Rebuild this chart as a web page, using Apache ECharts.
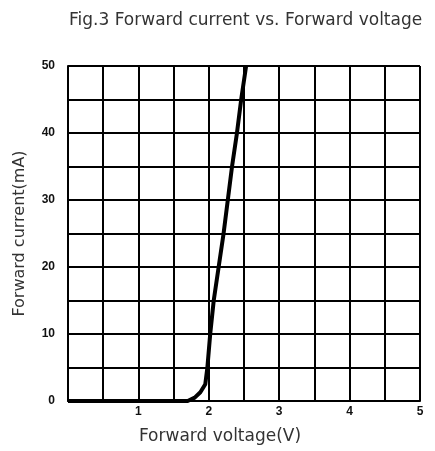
<!DOCTYPE html>
<html>
<head>
<meta charset="utf-8">
<script src="https://cdn.jsdelivr.net/npm/echarts@6/dist/echarts.min.js"></script>
<style>
  html, body { margin: 0; padding: 0; background: #fff; }
  #main { width: 435px; height: 451px; }
</style>
</head>
<body>
<div id="main"></div>
<script>
// curve: [voltage V, current mA]
const voltage = [0, 1.70, 1.80, 1.88, 1.95, 1.98, 2.02, 2.07, 2.14, 2.21, 2.27, 2.33, 2.40, 2.46, 2.53];
const current = [0, 0, 0.5, 1.3, 2.5, 5, 10, 15, 20, 25, 30, 35, 40, 45, 50];
const xLabels = [1, 2, 3, 4, 5];
const yLabels = [0, 10, 20, 30, 40, 50];

var chartDom = document.getElementById('main');
var myChart = echarts.init(chartDom);

const points = voltage.map((v, i) => [v, current[i]]);

var option = {
  backgroundColor: '#fff',
  animation: false,
  title: {
    text: 'Fig.3 Forward current vs. Forward voltage',
    left: 64,
    top: 7,
    textStyle: {
      fontFamily: 'DejaVu Sans',
      fontSize: 17,
      fontWeight: 'normal',
      color: '#333'
    }
  },
  grid: {
    left: 68,
    right: 15,
    top: 66,
    bottom: 50
  },
  xAxis: {
    type: 'value',
    min: 0,
    max: 5,
    interval: 0.5,
    name: 'Forward voltage(V)',
    nameLocation: 'middle',
    nameGap: 27,
    nameTextStyle: {
      fontFamily: 'DejaVu Sans',
      fontSize: 17,
      color: '#333',
      padding: [0, 48, 0, 0]
    },
    axisTick: { show: false },
    axisLine: { lineStyle: { color: '#000', width: 2 } },
    splitLine: { show: true, lineStyle: { color: '#000', width: 2 } },
    axisLabel: {
      fontFamily: 'Liberation Sans',
      fontSize: 12,
      fontWeight: 'bold',
      color: '#111',
      margin: 5,
      formatter: function (v) {
        return xLabels.indexOf(v) >= 0 ? String(v) : '';
      }
    }
  },
  yAxis: {
    type: 'value',
    min: 0,
    max: 50,
    interval: 5,
    name: 'Forward current(mA)',
    nameLocation: 'middle',
    nameGap: 40,
    nameTextStyle: {
      fontFamily: 'DejaVu Sans',
      fontSize: 16,
      color: '#333'
    },
    axisTick: { show: false },
    axisLine: { show: true, lineStyle: { color: '#000', width: 2 } },
    splitLine: { show: true, lineStyle: { color: '#000', width: 2 } },
    axisLabel: {
      fontFamily: 'Liberation Sans',
      fontSize: 12,
      fontWeight: 'bold',
      color: '#111',
      margin: 13,
      padding: [0, 0, 6, 0],
      formatter: function (v) {
        return yLabels.indexOf(v) >= 0 ? String(v) : '';
      }
    }
  },
  series: [
    {
      name: 'IF',
      type: 'line',
      data: points,
      symbol: 'none',
      lineStyle: { color: '#000', width: 4 }
    }
  ]
};

option && myChart.setOption(option);
</script>
</body>
</html>
